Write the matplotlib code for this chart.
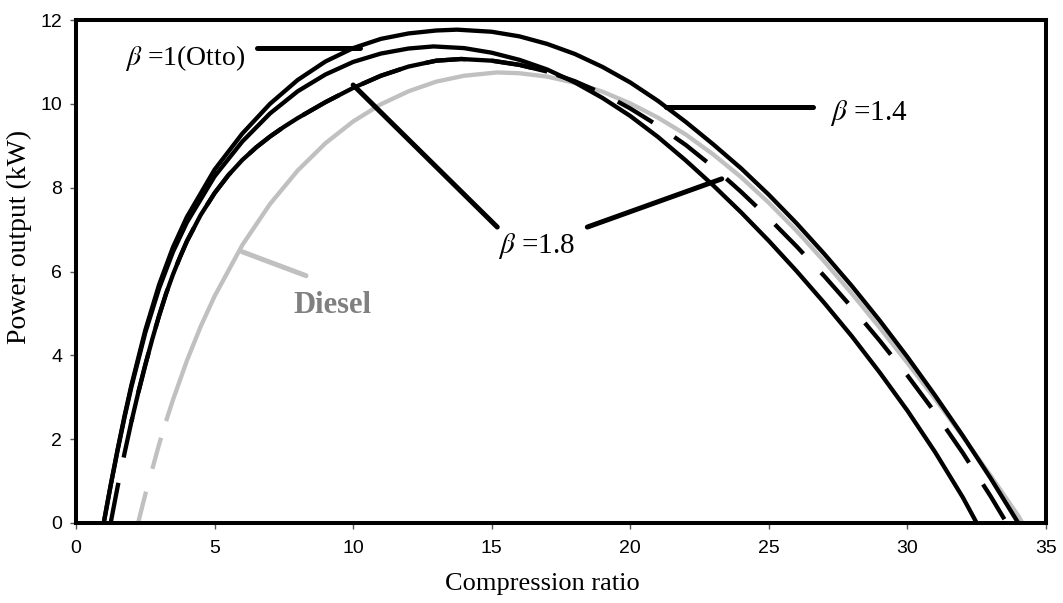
import numpy as np
import matplotlib.pyplot as plt

plt.rcParams.update({"font.family": "Liberation Serif", "mathtext.fontset": "stix"})

# curves (compression ratio, power output kW)
x_b14 = [1.0, 1.25, 1.5, 1.75, 2.0, 2.5, 3.0, 3.5, 4.0, 5.0, 6.0, 7.0, 8.0, 9.0, 10.0, 11.0, 12.0, 13.0, 13.75,
         15, 16, 17, 18, 19, 20, 21, 22, 23, 24, 25, 26, 27, 28, 29, 30, 31, 32, 33, 34]
y_b14 = [0, 0.90, 1.75, 2.55, 3.29, 4.60, 5.69, 6.58, 7.30, 8.43, 9.29, 10.00, 10.57, 11.01, 11.33, 11.55, 11.68,
         11.75, 11.77, 11.72, 11.61, 11.43, 11.19, 10.88, 10.51, 10.07, 9.57, 9.03, 8.46, 7.83, 7.15, 6.42, 5.65,
         4.83, 3.96, 3.04, 2.08, 1.07, 0]

x_otto = [1.0, 1.25, 1.5, 1.75, 2.0, 2.5, 3.0, 3.5, 4.0, 5.0, 6.0, 7.0, 8.0, 9.0, 10.0, 11.0, 12.0, 12.9,
          14, 15, 16, 17, 18, 19, 20, 21, 22, 23, 24, 25, 26, 27, 28, 29, 30, 31, 32, 32.5]
y_otto = [0, 0.89, 1.73, 2.52, 3.25, 4.54, 5.60, 6.47, 7.17, 8.27, 9.10, 9.77, 10.30, 10.70, 11.00, 11.20, 11.32,
          11.37, 11.33, 11.22, 11.05, 10.82, 10.51, 10.14, 9.71, 9.21, 8.65, 8.05, 7.41, 6.73, 6.01, 5.25, 4.45,
          3.59, 2.68, 1.69, 0.61, 0]

x_b18 = [1.25, 1.5, 1.75, 2.0, 2.25, 2.5, 2.75, 3.0, 3.25, 3.5, 3.75, 4.0, 4.5, 5.0, 5.5, 6.0, 6.5, 7.0, 7.5,
         8.0, 9.0, 10.0, 11.0, 12.0, 13.0, 13.9, 15, 16, 17, 18, 19, 20, 21, 22, 23, 24, 25, 26, 27, 28, 29,
         30, 31, 32, 33, 33.58]
y_b18 = [0, 0.86, 1.66, 2.42, 3.12, 3.77, 4.38, 4.95, 5.47, 5.93, 6.34, 6.72, 7.35, 7.87, 8.30, 8.66, 8.96, 9.22,
         9.45, 9.66, 10.04, 10.38, 10.67, 10.89, 11.03, 11.07, 11.03, 10.93, 10.77, 10.54, 10.25, 9.89, 9.48,
         9.02, 8.49, 7.90, 7.27, 6.60, 5.89, 5.14, 4.35, 3.52, 2.63, 1.67, 0.64, 0]

x_diesel = [2.24, 2.5, 3.0, 3.25, 3.5, 4.0, 4.5, 5.0, 6.0, 7.0, 8.0, 9.0, 10.0, 11.0, 12.0, 13.0, 14.0, 15.2,
            16, 17, 18, 19, 20, 21, 22, 23, 24, 25, 26, 27, 28, 29, 30, 31, 32, 33, 34, 34.15]
y_diesel = [0, 0.68, 1.88, 2.43, 2.94, 3.87, 4.69, 5.41, 6.63, 7.61, 8.41, 9.06, 9.58, 9.99, 10.30, 10.53, 10.67,
            10.75, 10.73, 10.65, 10.5, 10.29, 10.01, 9.67, 9.27, 8.79, 8.25, 7.64, 6.97, 6.24, 5.47, 4.66, 3.82,
            2.96, 2.06, 1.13, 0.17, 0]

xticks = [0, 5, 10, 15, 20, 25, 30, 35]
yticks = [0, 2, 4, 6, 8, 10, 12]

GRAY = "#c0c0c0"
LW = 3.1

fig = plt.figure(figsize=(10.63, 6.03), dpi=100)
ax = fig.add_axes([0.0715, 0.1327, 0.9125, 0.8341])

xd, yd = np.array(x_diesel), np.array(y_diesel)
x18, y18 = np.array(x_b18), np.array(y_b18)

# diesel: dashed start, solid after
ax.plot(xd[xd <= 3.25], yd[xd <= 3.25], color=GRAY, lw=LW, ls=(0, (7.5, 5.5)))
ax.plot(xd[xd >= 3.25], yd[xd >= 3.25], color=GRAY, lw=LW, solid_capstyle="butt", solid_joinstyle="round")

curve = dict(color="black", lw=LW, solid_joinstyle="round")
ax.plot(x_b14, y_b14, **curve)
ax.plot(x_otto, y_otto, **curve)
# beta = 1.8 is dashed, looks solid where it runs by the others
ax.plot(x18, y18, color="black", lw=LW, ls=(0, (9.5, 6)))
s = (x18 >= 2.0) & (x18 <= 17.0)
ax.plot(x18[s], y18[s], solid_capstyle="butt", **curve)

# labels with leader lines
lead = dict(color="black", lw=3.6, solid_capstyle="round")
ax.plot([6.53, 10.25], [11.34, 11.34], **lead)
ax.plot([21.3, 26.6], [9.93, 9.93], **lead)
ax.plot([10.0, 15.2], [10.45, 7.06], **lead)
ax.plot([18.45, 23.3], [7.06, 8.21], **lead)
ax.plot([6.0, 8.3], [6.47, 5.9], color=GRAY, lw=3.6, solid_capstyle="round")

ax.text(1.77, 11.1, r"$\beta$ =1(Otto)", fontsize=20, ha="left", va="center")
ax.text(27.2, 9.79, r"$\beta$ =1.4", fontsize=21, ha="left", va="center")
ax.text(15.23, 6.61, r"$\beta$ =1.8", fontsize=21, ha="left", va="center")
ax.text(7.83, 5.2, "Diesel", fontsize=22, fontweight="bold", color="#808080", ha="left", va="center")

ax.set_xlim(0, 35)
ax.set_ylim(0, 12)
ax.set_xticks(xticks)
ax.set_yticks(yticks)
ax.tick_params(direction="out", length=4, width=1, color="#555555", labelsize=14)
ax.tick_params(axis="x", pad=8)
ax.tick_params(axis="y", pad=6)
for lab in ax.get_xticklabels() + ax.get_yticklabels():
    lab.set_fontfamily("Liberation Sans")
for sp in ax.spines.values():
    sp.set_linewidth(2.9)
ax.set_xlabel("Compression ratio", fontsize=19)
ax.set_ylabel("Power output (kW)", fontsize=20)
ax.xaxis.set_label_coords(0.481, -0.10)
ax.yaxis.set_label_coords(-0.045, 0.569)

fig.savefig("out.png", dpi=100)
